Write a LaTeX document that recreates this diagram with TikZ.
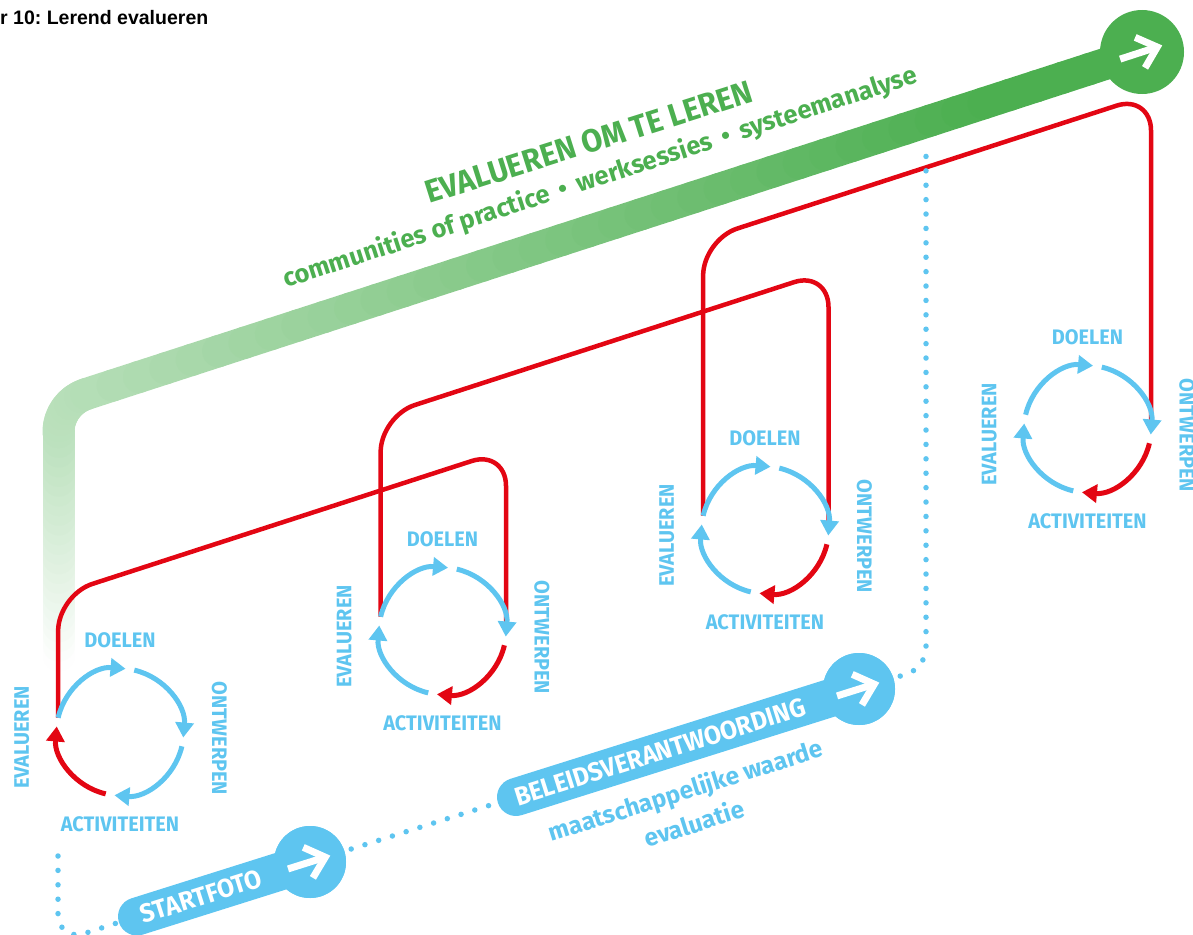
\documentclass[tikz,border=0pt]{standalone}
\usepackage{fontspec}
\setmainfont{Fira Sans}
\newfontfamily\condfont[FakeStretch=0.95]{Fira Sans}
\newfontfamily\titlefont{Liberation Sans}
\usetikzlibrary{arrows.meta,calc}
\definecolor{cblue}{RGB}{94,197,240}
\definecolor{cred}{RGB}{227,6,19}
\definecolor{cgreen}{RGB}{76,175,80}
\frenchspacing
\begin{document}
\begin{tikzpicture}[x=1pt,y=-1pt,
  arcb/.style={line width=5pt, -{Triangle[length=15pt,width=18pt]}},
  redline/.style={line width=4.5pt, cred, rounded corners=36pt},
  dots/.style={cblue, line width=5.5pt, line cap=round, dash pattern=on 0pt off 14.4pt},
  band/.style={line width=32pt, line cap=round},
  pill/.style={line width=38pt, cblue, line cap=round},
  lbl/.style={text=cblue, font=\condfont\bfseries\fontsize{21}{21}\selectfont, inner sep=0pt},
  pilltext/.style={text=white, font=\condfont\bfseries\fontsize{26}{26}\selectfont, inner sep=0pt},
  subblue/.style={text=cblue, font=\bfseries\fontsize{24.5}{24.5}\selectfont, inner sep=0pt},
  gtitle/.style={text=cgreen, font=\condfont\bfseries\fontsize{32}{32}\selectfont, inner sep=0pt},
  gsub/.style={text=cgreen, font=\bfseries\fontsize{25.5}{25.5}\selectfont, inner sep=0pt},
  warrow/.pic={
    \draw[white, line width=7pt] (-23,0) -- (14,0);
    \draw[white, line width=7pt, line join=miter, miter limit=10] (-2,-16) -- (16,0) -- (-2,16);
  }
]
\useasboundingbox (0,0) rectangle (1193,934);

% title
\node[anchor=base west, inner sep=0pt, font=\titlefont\bfseries\fontsize{19.5}{19.5}\selectfont] (title) at (0,25) {r 10: Lerend evalueren};

% green band (gradient by segments)
\foreach \i in {0,...,23} {
  \pgfmathsetmacro\ya{665-\i*9.7042}
  \pgfmathsetmacro\yb{\ya-9.7042}
  \pgfmathsetmacro\p{max(0,min(37,37*(655-(\ya+\yb)/2)/223))}
  \draw[band, cgreen!\p!white] (58.5,\ya) -- (58.5,\yb);
}
\foreach \i in {0,...,7} {
  \pgfmathsetmacro\aa{180+\i*9.00875}
  \pgfmathsetmacro\ab{\aa+9.00875}
  \pgfmathsetmacro\p{37+4*(\i+0.5)/8}
  \draw[band, cgreen!\p!white] ([shift={(98.5,432.1)}]\aa:40) arc[start angle=\aa, end angle=\ab, radius=40];
}
\foreach \i in {0,...,39} {
  \pgfmathsetmacro\fa{\i/40}
  \pgfmathsetmacro\fb{(\i+1)/40}
  \pgfmathsetmacro\p{min(100,41+59*(\i+0.5)/40/0.85)}
  \draw[band, cgreen!\p!white] ($(86.18,394.03)!\fa!(1142,52)$) -- ($(86.18,394.03)!\fb!(1142,52)$);
}
\node[circle, fill=cgreen, minimum size=84pt, inner sep=0pt] (greenc) at (1142,52) {};
\pic[rotate=18] at (greenc) {warrow};

% green texts
\node[gtitle, rotate=17.5] (eomtl) at (589,142) {EVALUEREN OM TE LEREN};
\node[gsub, rotate=18] (cop) at (600,178) {communities of practice \,•\, werksessies \,•\, systeemanalyse};

% cycle centres
\foreach \k in {1,...,4} {
  \pgfmathsetmacro\cx{120+322.5*(\k-1)}
  \pgfmathsetmacro\cy{732-101*(\k-1)}
  \coordinate (c\k) at (\cx,\cy);
  \coordinate (e\k) at ([shift={(c\k)}]-167:63.5);
  \coordinate (o\k) at ([shift={(c\k)}]63.5,-6);
}

% red connectors
\draw[redline] (e1) -- (58.13,595) -- (506,449.9) -- (o2);
\draw[redline] (e2) -- (380.63,416.1) -- (828.5,271) -- (o3);
\draw[redline] (e3) -- (703.13,239.6) -- (1151,94.5) -- (o4);

% cycles
\foreach \k/\rd in {1/4,2/3,3/3,4/3} {
  \foreach \j in {1,...,4} {
    \pgfmathsetmacro\sa{-167+90*(\j-1)}
    \pgfmathsetmacro\ea{\sa+82}
    \ifnum\j=\rd\relax \def\col{cred}\else\def\col{cblue}\fi
    \draw[arcb, color=\col] ([shift={(c\k)}]\sa:63.5) arc[start angle=\sa, end angle=\ea, radius=63.5];
  }
  \node[lbl] (doel\k) at ([shift={(c\k)}]0,-92) {DOELEN};
  \node[lbl] (act\k) at ([shift={(c\k)}]0,92.5) {ACTIVITEITEN};
  \node[lbl, rotate=90] (eval\k) at ([shift={(c\k)}]-98.3,5.5) {EVALUEREN};
  \node[lbl, rotate=-90] (ontw\k) at ([shift={(c\k)}]99.5,6.5) {ONTWERPEN};
}

% blue route
\coordinate (startL) at (137,916.5);
\coordinate (beleidL) at (516,797);
\coordinate (d1) at (58,856);
\coordinate (d3) at (926,148);
\node[circle, fill=cblue, minimum size=72pt, inner sep=0pt] (startc) at (310,862) {};
\node[circle, fill=cblue, minimum size=72pt, inner sep=0pt] (beleidc) at (859,689) {};
\draw[dots, rounded corners=28pt] (d1) -- (58,942) -- (startL);
\draw[dots] (startc.center) -- (beleidL);
\draw[dots, rounded corners=20pt] (beleidc.center) -- (926,668) -- (d3);
\draw[pill] (startL) -- (startc.center);
\draw[pill] (beleidL) -- (beleidc.center);
\node[circle, fill=cblue, minimum size=72pt, inner sep=0pt] at (startc) {};
\node[circle, fill=cblue, minimum size=72pt, inner sep=0pt] at (beleidc) {};
\pic[rotate=17.5] at (startc) {warrow};
\pic[rotate=17.5] at (beleidc) {warrow};

\node[pilltext, rotate=17.5] (startt) at (201,896.3) {STARTFOTO};
\node[pilltext, rotate=17.5] (beleidt) at (660,751.8) {BELEIDSVERANTWOORDING};
\node[subblue, rotate=17.5] (maat) at (686,792) {maatschappelijke waarde};
\node[subblue, rotate=17.5] (evalt) at (694,823) {evaluatie};
\end{tikzpicture}
\end{document}
